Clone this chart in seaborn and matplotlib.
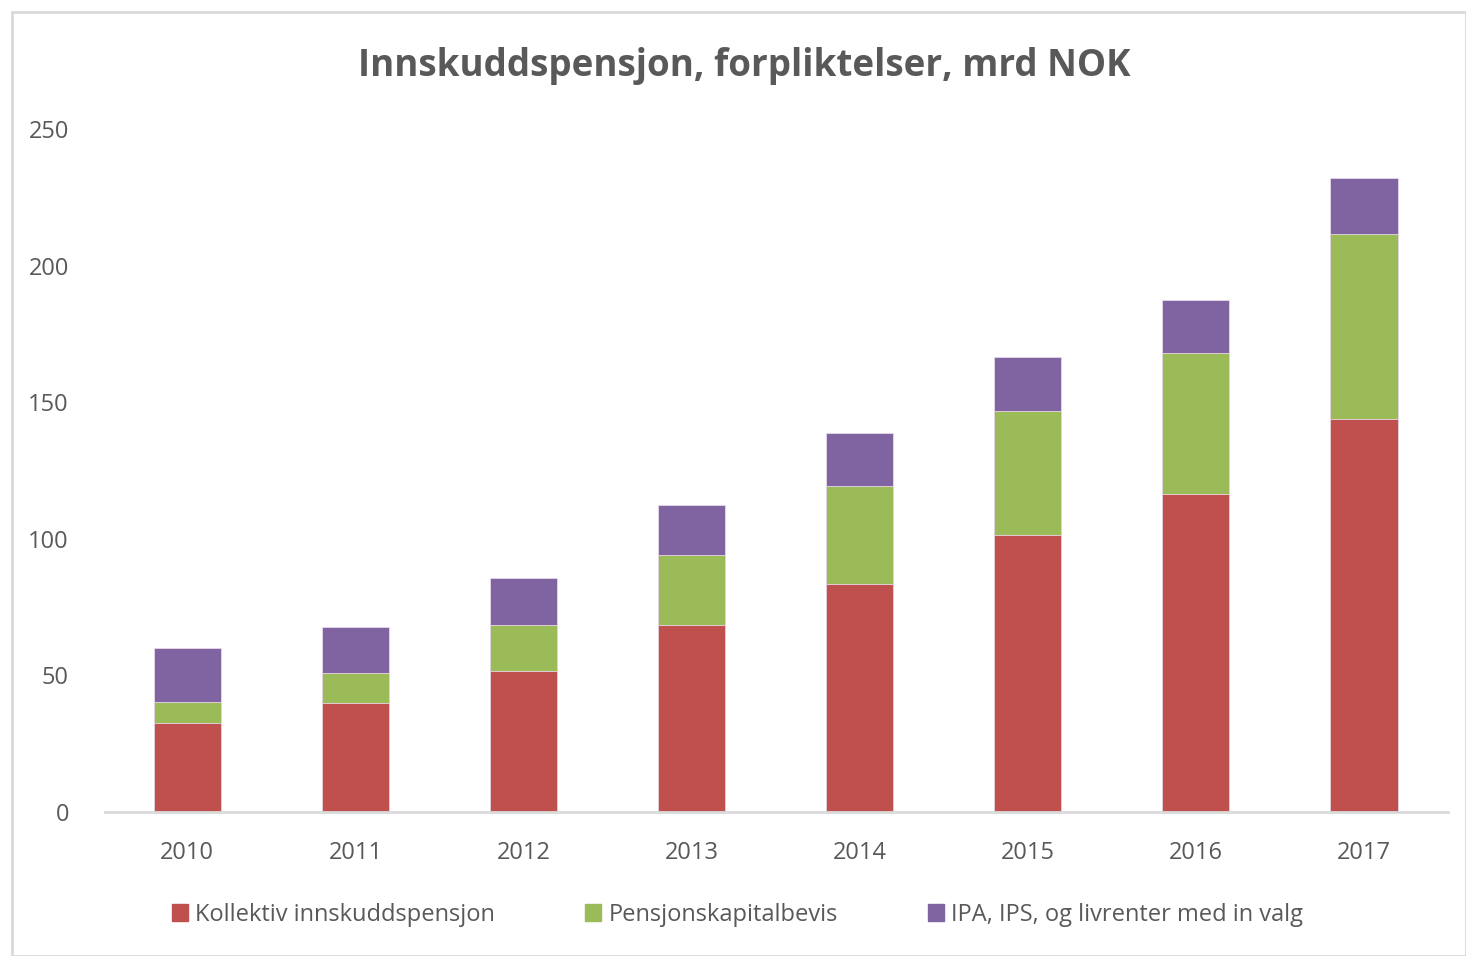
import matplotlib
matplotlib.use("Agg")
import matplotlib.pyplot as plt
import matplotlib.patches as mpatches
import seaborn as sns
import pandas as pd
import numpy as np

# data (mrd NOK)
years = ['2010', '2011', '2012', '2013', '2014', '2015', '2016', '2017']
kollektiv = [32.6, 39.9, 51.6, 68.4, 83.5, 101.4, 116.4, 143.9]
pensjonskapital = [7.7, 11.0, 16.8, 25.7, 35.8, 45.4, 51.6, 67.7]
ipa = [19.7, 16.8, 17.3, 18.3, 19.4, 19.7, 19.4, 20.5]
series_names = ['Kollektiv innskuddspensjon', 'Pensjonskapitalbevis',
                'IPA, IPS, og livrenter med in valg']
colors = ['#C0504D', '#9BBB59', '#8064A2']

sns.set_style('white')
plt.rcParams['font.family'] = ['Open Sans', 'DejaVu Sans']
text_col = '#595959'

df = pd.DataFrame({'year': years, 'kollektiv': kollektiv,
                   'pensjonskapital': pensjonskapital, 'ipa': ipa})
df['c1'] = df['kollektiv']
df['c2'] = df['c1'] + df['pensjonskapital']
df['c3'] = df['c2'] + df['ipa']

fig = plt.figure(figsize=(14.66, 9.56), dpi=100)
ax = fig.add_axes([105 / 1466, 1 - 812 / 956, (1448 - 105) / 1466, (812 - 129) / 956])

# stacked bars: draw cumulative totals, tallest first
for col, c in zip(['c3', 'c2', 'c1'], colors[::-1]):
    sns.barplot(data=df, x='year', y=col, color=c, width=0.4, ax=ax,
                saturation=1, edgecolor='#E8D8E8', linewidth=0.6)

ax.set_ylim(0, 250)
ax.set_xlim(-0.49, 7.5)
ax.set_yticks([0, 50, 100, 150, 200, 250])
ax.set_xlabel('')
ax.set_ylabel('')
for s in ['top', 'right', 'left']:
    ax.spines[s].set_visible(False)
ax.spines['bottom'].set_color('#D9D9D9')
ax.spines['bottom'].set_linewidth(2)
ax.tick_params(axis='both', length=0, labelsize=17, colors=text_col)
ax.tick_params(axis='y', pad=26)
ax.tick_params(axis='x', pad=21)
for lab in ax.get_yticklabels():
    lab.set_horizontalalignment('right')

fig.text(0.508, 1 - 66 / 956, 'Innskuddspensjon, forpliktelser, mrd NOK',
         ha='center', va='center', fontsize=26.5, fontweight='bold', color=text_col)

handles = [mpatches.Patch(color=c, label=n) for c, n in zip(colors, series_names)]
fig.legend(handles=handles, loc='center', bbox_to_anchor=(0.503, 1 - 915 / 956),
           ncol=3, frameon=False, fontsize=17, labelcolor=text_col,
           handlelength=0.7, handleheight=0.7, handletextpad=0.3, columnspacing=3.8)

# outer chart border
border = mpatches.Rectangle((12 / 1466, 0), 1 - 12 / 1466, 1 - 12 / 956,
                            transform=fig.transFigure, fill=False,
                            edgecolor='#D9D9D9', linewidth=2)
fig.patches.append(border)

fig.savefig('out.png', dpi=100)
